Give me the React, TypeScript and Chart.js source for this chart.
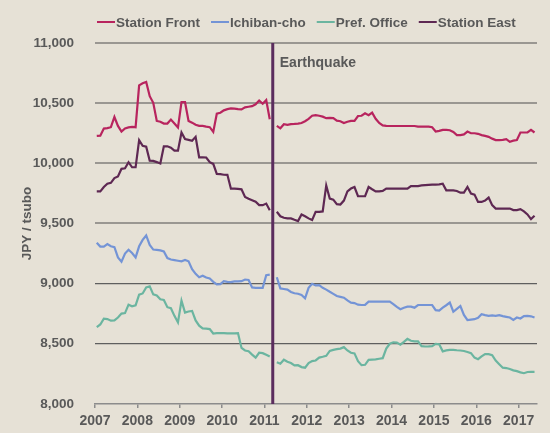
import React, { useEffect, useRef } from "react";
import { Chart, registerables } from "chart.js";

Chart.register(...registerables);

// ---- data (monthly, Jan 2007 .. May 2017; March 2011 = no data) ----
const startYear = 2007;
const yearTicks = [2007, 2008, 2009, 2010, 2011, 2012, 2013, 2014, 2015, 2016, 2017];
const yTicks = [8000, 8500, 9000, 9500, 10000, 10500, 11000];
const quakeMonth = 50.35; // 11 March 2011, months since Jan 2007
const quakeLabel = "Earthquake";
const yTitle = "JPY / tsubo";
const seriesNames = ["Station Front", "Ichiban-cho", "Pref. Office", "Station East"];
const seriesColors = ["#b8245e", "#7494d6", "#6bb5a0", "#5e2853"];

const stationFront: (number | null)[] = [
  10228, 10230, 10289, 10292, 10300, 10385, 10311, 10264, 10290, 10298,
  10302, 10300, 10648, 10665, 10676, 10558, 10503, 10352, 10345, 10330,
  10330, 10363, 10330, 10297, 10508, 10508, 10352, 10338, 10320, 10311,
  10311, 10305, 10300, 10261, 10412, 10420, 10440, 10450, 10456, 10455,
  10450, 10448, 10465, 10470, 10475, 10490, 10522, 10495, 10525, 10366,
  null, 10311, 10291, 10325, 10320, 10325, 10327, 10330, 10335, 10350,
  10370, 10395, 10400, 10395, 10388, 10375, 10378, 10375, 10355, 10350,
  10335, 10345, 10352, 10352, 10393, 10395, 10415, 10400, 10421, 10370,
  10335, 10315, 10311, 10310, 10310, 10310, 10310, 10310, 10310, 10310,
  10310, 10305, 10305, 10305, 10305, 10300, 10264, 10270, 10278, 10278,
  10275, 10260, 10234, 10234, 10240, 10264, 10250, 10250, 10245, 10234,
  10228, 10220, 10205, 10193, 10193, 10195, 10201, 10179, 10188, 10193,
  10256, 10256, 10256, 10278, 10256,
];

const ichibanCho: (number | null)[] = [
  9340, 9308, 9308, 9328, 9310, 9303, 9218, 9182, 9250, 9281,
  9254, 9218, 9310, 9363, 9400, 9322, 9283, 9280, 9276, 9267,
  9212, 9200, 9195, 9190, 9185, 9196, 9185, 9120, 9081, 9053,
  9065, 9050, 9042, 9015, 8993, 8995, 9020, 9015, 9012, 9018,
  9018, 9020, 9034, 9030, 8968, 8965, 8965, 8965, 9070, 9075,
  null, 9053, 8960, 8955, 8950, 8930, 8920, 8916, 8905, 8878,
  8965, 8998, 8985, 8987, 8965, 8950, 8932, 8915, 8897, 8890,
  8883, 8860, 8842, 8838, 8825, 8822, 8823, 8850, 8850, 8850,
  8850, 8850, 8850, 8850, 8830, 8806, 8787, 8800, 8809, 8809,
  8800, 8822, 8822, 8822, 8822, 8822, 8779, 8775, 8800, 8820,
  8842, 8766, 8790, 8814, 8740, 8696, 8700, 8704, 8715, 8745,
  8738, 8732, 8735, 8732, 8738, 8730, 8724, 8718, 8698, 8718,
  8710, 8730, 8732, 8728, 8718,
];

const prefOffice: (number | null)[] = [
  8638, 8660, 8708, 8705, 8692, 8694, 8718, 8751, 8755, 8825,
  8812, 8820, 8908, 8918, 8968, 8978, 8910, 8902, 8870, 8864,
  8804, 8795, 8732, 8677, 8858, 8759, 8768, 8773, 8694, 8650,
  8628, 8625, 8622, 8585, 8588, 8589, 8589, 8587, 8586, 8587,
  8589, 8465, 8444, 8438, 8410, 8385, 8425, 8422, 8408, 8394,
  null, 8347, 8334, 8367, 8350, 8340, 8320, 8322, 8306, 8301,
  8340, 8356, 8361, 8385, 8392, 8400, 8440, 8449, 8455, 8460,
  8472, 8444, 8425, 8420, 8355, 8322, 8325, 8366, 8368, 8370,
  8375, 8380, 8460, 8500, 8512, 8510, 8493, 8515, 8540, 8525,
  8520, 8520, 8480, 8477, 8478, 8480, 8499, 8495, 8437, 8445,
  8449, 8449, 8446, 8444, 8440, 8432, 8422, 8385, 8372, 8395,
  8414, 8414, 8405, 8360, 8330, 8301, 8298, 8290, 8279, 8272,
  8262, 8255, 8265, 8267, 8267,
];

const stationEast: (number | null)[] = [
  9767, 9767, 9803, 9830, 9838, 9877, 9890, 9954, 9959, 10009,
  9967, 9967, 10193, 10146, 10138, 10022, 10020, 10010, 9998, 10141,
  10141, 10130, 10105, 10105, 10256, 10201, 10195, 10187, 10220, 10050,
  10050, 10048, 10009, 9995, 9912, 9910, 9905, 9904, 9789, 9789,
  9787, 9784, 9720, 9705, 9693, 9680, 9652, 9652, 9665, 9610,
  null, 9597, 9560, 9547, 9542, 9542, 9530, 9520, 9575, 9560,
  9542, 9528, 9597, 9597, 9600, 9816, 9707, 9698, 9660, 9657,
  9690, 9767, 9790, 9803, 9726, 9726, 9726, 9803, 9784, 9767,
  9767, 9770, 9789, 9789, 9789, 9789, 9789, 9789, 9789, 9811,
  9811, 9811, 9816, 9818, 9820, 9822, 9822, 9825, 9830, 9775,
  9775, 9775, 9770, 9756, 9756, 9803, 9748, 9740, 9679, 9679,
  9690, 9715, 9652, 9624, 9624, 9624, 9624, 9624, 9611, 9611,
  9619, 9600, 9575, 9536, 9564,
];

const seriesValues = [stationFront, ichibanCho, prefOffice, stationEast];

const BG = "#e6e1d6";
const TEXT = "#595959";
const FONT_FAMILY = "'Liberation Sans', Arial, sans-serif";

export default function App() {
  const ref = useRef<HTMLCanvasElement | null>(null);

  useEffect(() => {
    if (!ref.current) return;

    const quakePlugin = {
      id: "quake",
      afterDatasetsDraw(chart: any) {
        const { ctx, chartArea, scales } = chart;
        const x = scales.x.getPixelForValue(quakeMonth);
        ctx.save();
        ctx.strokeStyle = "#5b2d5e";
        ctx.lineWidth = 3;
        ctx.beginPath();
        ctx.moveTo(x, chartArea.top);
        ctx.lineTo(x, chartArea.bottom);
        ctx.stroke();
        ctx.fillStyle = TEXT;
        ctx.font = `bold 14px ${FONT_FAMILY}`;
        ctx.textBaseline = "alphabetic";
        ctx.textAlign = "left";
        ctx.fillText(quakeLabel, x + 7, chartArea.top + 24);
        ctx.restore();
      },
    };

    const legendPlugin = {
      id: "customLegend",
      afterDraw(chart: any) {
        const { ctx } = chart;
        ctx.save();
        ctx.font = `bold 13.5px ${FONT_FAMILY}`;
        ctx.textBaseline = "alphabetic";
        ctx.textAlign = "left";
        let x = 97;
        const yLine = 22;
        chart.data.datasets.forEach((ds: any) => {
          ctx.strokeStyle = ds.borderColor;
          ctx.lineWidth = 2;
          ctx.beginPath();
          ctx.moveTo(x, yLine);
          ctx.lineTo(x + 18, yLine);
          ctx.stroke();
          x += 19;
          ctx.fillStyle = TEXT;
          ctx.fillText(ds.label, x, 26.5);
          x += ctx.measureText(ds.label).width + 11;
        });
        ctx.restore();
      },
    };

    const bgPlugin = {
      id: "bg",
      beforeDraw(chart: any) {
        const { ctx, width, height } = chart;
        ctx.save();
        ctx.fillStyle = BG;
        ctx.fillRect(0, 0, width, height);
        ctx.restore();
      },
    };

    const chart = new Chart(ref.current, {
      type: "line",
      data: {
        datasets: seriesNames.map((name, si) => ({
          label: name,
          data: seriesValues[si].map((v, i) => ({ x: i + 0.5, y: v })),
          borderColor: seriesColors[si],
          backgroundColor: seriesColors[si],
          borderWidth: 2.2,
          pointRadius: 0,
          tension: 0,
          spanGaps: false,
        })),
      },
      options: {
        animation: false,
        responsive: false,
        devicePixelRatio: 1,
        layout: { padding: { top: 43, right: 13, left: 0, bottom: 0 } },
        plugins: {
          legend: { display: false },
          tooltip: { enabled: false },
        },
        scales: {
          x: {
            type: "linear",
            min: 0,
            max: 125.2,
            afterBuildTicks: (axis: any) => {
              axis.ticks = yearTicks.map((y) => ({ value: (y - startYear) * 12 }));
            },
            ticks: {
              callback: (v: any) => String(startYear + Math.round(Number(v) / 12)),
              font: { family: FONT_FAMILY, size: 14, weight: "bold" },
              color: TEXT,
              padding: 5,
              maxRotation: 0,
              autoSkip: false,
            },
            grid: {
              drawOnChartArea: false,
              drawTicks: true,
              tickLength: 4,
              color: "#8c8c8c",
              lineWidth: 1.5,
            },
            border: { display: true, color: "#8c8c8c", width: 1.5 },
            afterFit: (s: any) => {
              s.height = 25;
            },
          },
          y: {
            type: "linear",
            min: 8000,
            max: 11000,
            afterBuildTicks: (axis: any) => {
              axis.ticks = yTicks.map((v) => ({ value: v }));
            },
            ticks: {
              callback: (v: any) => Number(v).toLocaleString("en-US"),
              font: { family: FONT_FAMILY, size: 13.5, weight: "bold" },
              color: TEXT,
              padding: 21,
            },
            grid: {
              drawTicks: false,
              color: (c: any) =>
                c.tick && c.tick.value === 8000
                  ? "rgba(0,0,0,0)"
                  : c.tick && c.tick.value >= 9500
                  ? "#9a9792"
                  : "#5f5f5f",
              lineWidth: (c: any) => (c.tick && c.tick.value >= 9500 ? 2 : 1.2),
            },
            border: { display: false },
            title: {
              display: true,
              text: yTitle,
              color: TEXT,
              font: { family: FONT_FAMILY, size: 13.5, weight: "bold" },
              padding: { top: 19, bottom: 0 },
            },
            afterFit: (s: any) => {
              s.width = 95;
            },
          },
        },
      },
      plugins: [bgPlugin, quakePlugin, legendPlugin],
    } as any);

    return () => chart.destroy();
  }, []);

  return (
    <div
      style={{
        position: "fixed",
        left: 0,
        top: 0,
        width: 550,
        height: 433,
        background: BG,
      }}
    >
      <canvas ref={ref} width={550} height={433} style={{ display: "block" }} />
    </div>
  );
}
